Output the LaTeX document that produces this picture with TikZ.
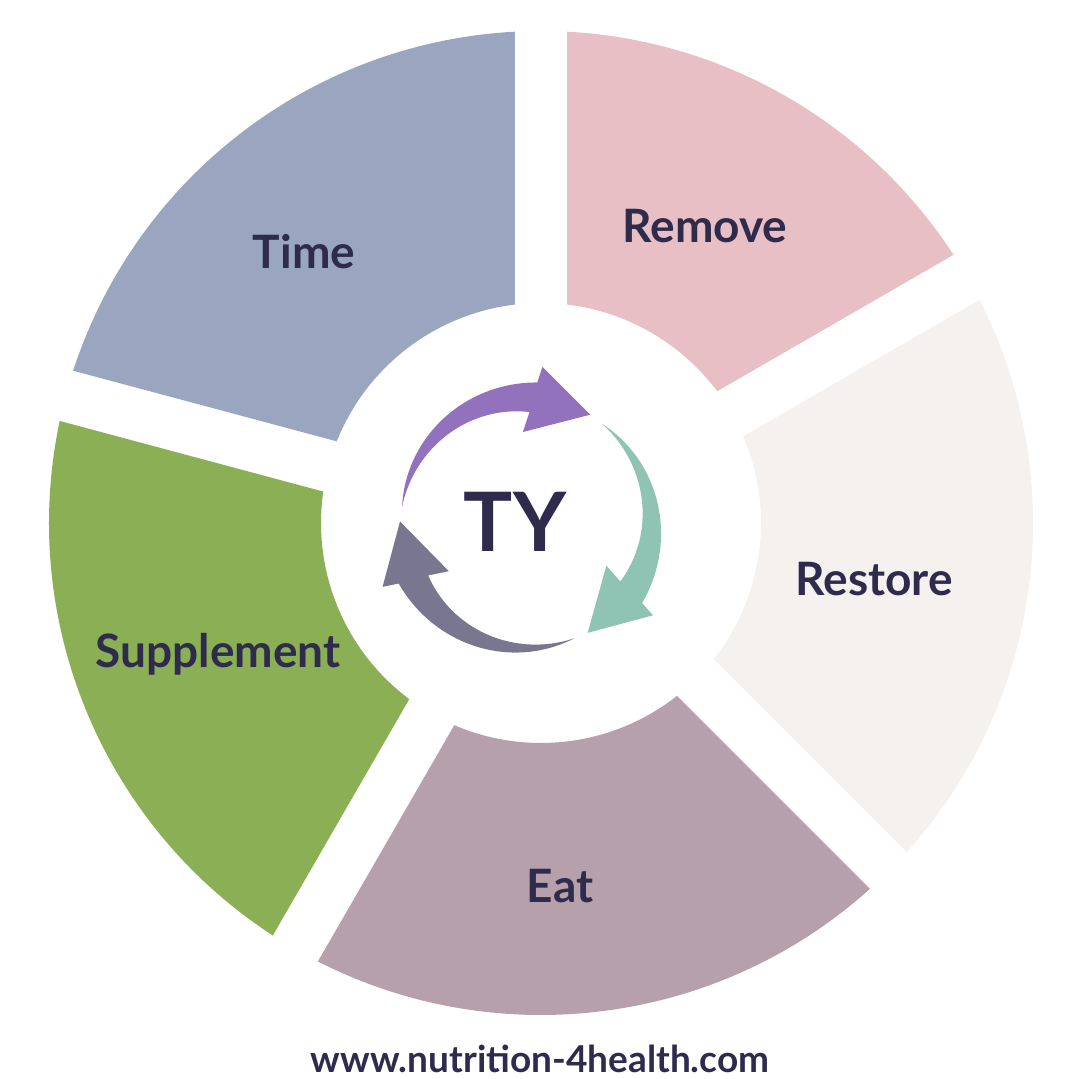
\documentclass[tikz,border=0pt]{standalone}
\usepackage{fontspec}
\setmainfont{Lato}
\usetikzlibrary{calc}

\definecolor{inkblue}{HTML}{2E2B4D}
\definecolor{timeblue}{HTML}{9AA6BF}
\definecolor{removepink}{HTML}{E8BFC4}
\definecolor{restoregrey}{HTML}{F5F1EF}
\definecolor{eatmauve}{HTML}{B5A0AC}
\definecolor{supgreen}{HTML}{8AAF55}
\definecolor{arrowpurple}{HTML}{9272BC}
\definecolor{arrowteal}{HTML}{8FC3B3}
\definecolor{arrowgrey}{HTML}{79768F}

% one ring segment between two gap directions (gap width 52)
\newcommand{\ringsector}[3]{%
  \fill[#1] ([shift={({#2+3.03}:492pt)}]ring)
    arc[start angle={#2+3.03}, end angle={#3-3.03}, radius=492pt]
    -- ([shift={({#3-6.79}:220pt)}]ring)
    arc[start angle={#3-6.79}, end angle={#2+6.79}, radius=220pt] -- cycle;}

% tapered curved arrow, rotated about the arrow centre
\newcommand{\cyclearrow}[2]{%
  \begin{scope}[shift={(cyc)}, rotate=#2]
    \fill[#1] plot[domain=0:1, samples=40, variable=\t] ({172.6-87.2*\t}:{125+16*\t})
      -- (84:157) -- (59.3:126) -- (92:91)
      -- plot[domain=1:0, samples=40, variable=\t] ({172.6-84.4*\t}:{125-14*\t}) -- cycle;
  \end{scope}}

\begin{document}
\begin{tikzpicture}[
    x=1pt, y=1pt,
    seglabel/.style={font=\fontsize{46}{52}\selectfont\bfseries, text=inkblue, inner sep=0pt, anchor=base},
    centre/.style={font=\fontsize{82}{90}\selectfont\bfseries, text=inkblue, inner sep=0pt, anchor=base},
    weblink/.style={font=\fontsize{37}{42}\selectfont\bfseries, text=inkblue, inner sep=0pt, anchor=base}
]
\fill[white] (0,0) rectangle (1080,1079);
\useasboundingbox (0,0) rectangle (1080,1079);

\coordinate (ring) at (541,556);
\coordinate (cyc) at (526,556);

% ring
\ringsector{removepink}{30}{90}
\ringsector{timeblue}{90}{165}
\ringsector{supgreen}{165}{240}
\ringsector{eatmauve}{240}{315}
\ringsector{restoregrey}{315}{390}

% cycle arrows
\cyclearrow{arrowpurple}{0}
\cyclearrow{arrowteal}{-120}
\cyclearrow{arrowgrey}{-240}

\node[seglabel] (remove) at (705,836) {Remove};
\node[seglabel] (time) at (304,810) {Time};
\node[seglabel] (supplement) at (218,411) {Supplement};
\node[seglabel] (eat) at (560,176) {Eat};
\node[seglabel] (restore) at (874,483) {Restore};
\node[centre] (ty) at (515,527) {TY};
\node[weblink] (url) at (540,6) {www.nutrition-4health.com};
\end{tikzpicture}
\end{document}
